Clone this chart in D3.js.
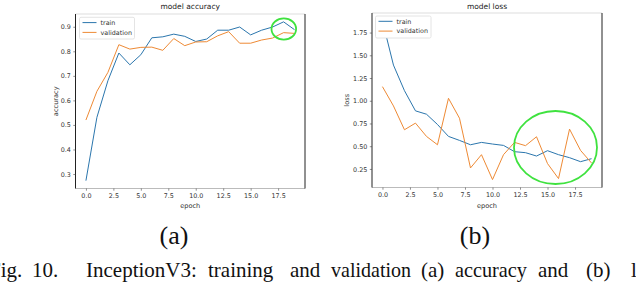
<!DOCTYPE html>
<html><head><meta charset="utf-8">
<script src="https://cdn.jsdelivr.net/npm/d3@7"></script>
<style>html,body{margin:0;padding:0;background:#fff;overflow:hidden}svg{display:block}</style>
</head><body>
<svg id="c" width="636" height="304"></svg>
<script>
const epochs = d3.range(20);
const accTrain = [0.273,0.531,0.680,0.793,0.745,0.786,0.855,0.859,0.870,0.861,0.840,0.850,0.886,0.886,0.899,0.867,0.886,0.899,0.920,0.888];
const accVal   = [0.520,0.637,0.714,0.827,0.809,0.816,0.817,0.804,0.852,0.823,0.838,0.839,0.863,0.880,0.833,0.833,0.846,0.854,0.876,0.873];
const lossTrain = [1.878,1.392,1.111,0.889,0.852,0.739,0.608,0.564,0.516,0.542,0.524,0.509,0.440,0.429,0.392,0.451,0.407,0.374,0.330,0.363];
const lossVal   = [1.155,0.943,0.681,0.754,0.608,0.516,1.027,0.808,0.261,0.407,0.133,0.407,0.542,0.506,0.604,0.309,0.144,0.688,0.454,0.315];
const xTicks = [0,2.5,5,7.5,10,12.5,15,17.5];
const accTicks = [0.3,0.4,0.5,0.6,0.7,0.8,0.9];
const lossTicks = [0.25,0.5,0.75,1.0,1.25,1.5,1.75];
const seriesNames = ["train","validation"];
const colors = ["#2b76ad","#ee8a35"];

const svg = d3.select("#c");
const F = "DejaVu Sans, sans-serif";

function panel(o){
  const x = d3.scaleLinear().domain([-0.95,19.95]).range([o.l,o.r]);
  const y = d3.scaleLinear().domain(o.yd).range([o.b,o.t]);
  const g = svg.append("g");
  g.append("line").attr("x1",o.l).attr("x2",o.r).attr("y1",o.t).attr("y2",o.t).attr("stroke","#ddd").attr("stroke-width",1.2);
  g.append("line").attr("x1",o.l).attr("x2",o.r).attr("y1",o.b).attr("y2",o.b).attr("stroke","#bbb").attr("stroke-width",1.2);
  g.append("line").attr("x1",o.l).attr("x2",o.l).attr("y1",o.t).attr("y2",o.b).attr("stroke","#222").attr("stroke-width",1);
  g.append("line").attr("x1",o.r).attr("x2",o.r).attr("y1",o.t).attr("y2",o.b).attr("stroke","#222").attr("stroke-width",1);
  const xa = g.append("g").attr("transform",`translate(0,${o.b})`)
    .call(d3.axisBottom(x).tickValues(xTicks).tickFormat(d3.format(".1f")).tickSizeOuter(0).tickSize(2.2).tickPadding(2.5));
  const ya = g.append("g").attr("transform",`translate(${o.l},0)`)
    .call(d3.axisLeft(y).tickValues(o.yt).tickFormat(o.fmt).tickSizeOuter(0).tickSize(2.2).tickPadding(2.5));
  [xa,ya].forEach(a=>{a.select(".domain").remove();a.selectAll("line").attr("stroke","#444").attr("stroke-width",0.6);
    a.selectAll("text").attr("font-family",F).attr("font-size",6.4).attr("fill","#333");});
  const line = d3.line().x((d,i)=>x(epochs[i])).y(d=>y(d));
  [o.s1,o.s2].forEach((s,k)=>{
    g.append("path").attr("d",line(s)).attr("fill","none").attr("stroke",colors[k]).attr("stroke-width",1);
  });
  g.append("text").attr("x",(o.l+o.r)/2).attr("y",9.3).attr("text-anchor","middle").attr("font-family",F).attr("font-size",7.5).attr("fill","#222").text(o.title);
  g.append("text").attr("x",(o.l+o.r)/2).attr("y",207.5).attr("text-anchor","middle").attr("font-family",F).attr("font-size",6.6).attr("fill","#333").text("epoch");
  g.append("text").attr("transform",`translate(${o.yl},${(o.t+o.b)/2}) rotate(-90)`).attr("text-anchor","middle").attr("font-family",F).attr("font-size",6.6).attr("fill","#333").text(o.ylabel);
  const L = o.leg;
  g.append("rect").attr("x",L.x).attr("y",L.y).attr("width",L.w).attr("height",L.h).attr("fill","#fff").attr("stroke","#ddd").attr("stroke-width",0.8).attr("rx",1.5);
  seriesNames.forEach((n,k)=>{
    const yy = L.y + 5.3 + k*9.8;
    g.append("line").attr("x1",L.x+3).attr("x2",L.x+17).attr("y1",yy).attr("y2",yy).attr("stroke",colors[k]).attr("stroke-width",1);
    g.append("text").attr("x",L.x+21).attr("y",yy+2.2).attr("font-family",F).attr("font-size",6.4).attr("fill","#333").text(n);
  });
  g.append("ellipse").attr("cx",o.el[0]).attr("cy",o.el[1]).attr("rx",o.el[2]).attr("ry",o.el[3])
    .attr("fill","none").attr("stroke","#3fe23f").attr("stroke-width",o.el[4]);
  return g;
}

panel({l:75.5,r:305,t:14,b:188.5,yd:[0.241,0.952],yt:accTicks,fmt:d3.format(".1f"),s1:accTrain,s2:accVal,
  title:"model accuracy",ylabel:"accuracy",yl:58,leg:{x:79.5,y:17.3,w:55,h:21.7},el:[283.8,29,12.3,10.6,1.8]});
panel({l:372,r:602,t:13,b:187.5,yd:[0.046,1.965],yt:lossTicks,fmt:d3.format(".2f"),s1:lossTrain,s2:lossVal,
  title:"model loss",ylabel:"loss",yl:349,leg:{x:375.5,y:16,w:55.5,h:22},el:[555.5,147.5,41.5,36.5,1.8]});

// caption
const T = "Liberation Serif, Times New Roman, serif";
const cap = svg.append("g").attr("font-family",T).attr("fill","#111");
cap.append("text").attr("x",174).attr("y",243.5).attr("font-size",26).attr("text-anchor","middle").text("(a)");
cap.append("text").attr("x",475).attr("y",243.5).attr("font-size",26).attr("text-anchor","middle").text("(b)");
const words = [["Fig.",-11,0],["10.",32,0],["InceptionV3:",86,0],["training",208,0],["and",290,0],["validation",331,80],["(a)",421,0],["accuracy",455,72],["and",538,0],["(b)",586,0],["loss",631,0]];
words.forEach(w=>{
  const t = cap.append("text").attr("x",w[1]).attr("y",276.5).attr("font-size",21).text(w[0]);
  if (w[2]) t.attr("textLength",w[2]).attr("lengthAdjust","spacingAndGlyphs");
});
cap.append("text").attr("x",-10).attr("y",315).attr("font-size",21).text("curves.");
</script>
</body></html>
